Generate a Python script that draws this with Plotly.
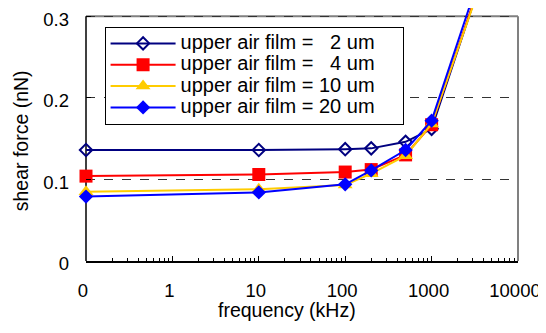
import plotly.graph_objects as go

freq_khz = [0.1, 10, 100, 200, 500, 1000, 10000]
tick_vals = [0.1, 1, 10, 100, 1000, 10000]
tick_text = ["0", "1", "10", "100", "1000", "10000"]
y_ticks = [0, 0.1, 0.2, 0.3]
y_text = ["0", "0.1", "0.2", "0.3"]

film_2um = [0.136, 0.136, 0.137, 0.138, 0.146, 0.162, 0.48]
film_4um = [0.104, 0.106, 0.109, 0.112, 0.130, 0.167, 0.475]
film_10um = [0.085, 0.088, 0.093, 0.107, 0.129, 0.168, 0.47]
film_20um = [0.079, 0.084, 0.094, 0.111, 0.136, 0.172, 0.49]

names = ["upper air film =\u00a0\u00a0\u00a02 um", "upper air film =\u00a0\u00a0\u00a04 um",
         "upper air film = 10 um", "upper air film = 20 um"]
series = [film_2um, film_4um, film_10um, film_20um]
colors = ["#000080", "#FF0000", "#FFCC00", "#0000FF"]
symbols = ["diamond-open", "square", "triangle-up", "diamond"]
sizes = [9.5, 13, 13, 11]

FONT = "Liberation Sans, Arial, sans-serif"

fig = go.Figure()
for nm, ys, c, s, sz in zip(names, series, colors, symbols, sizes):
    fig.add_trace(go.Scatter(
        x=freq_khz, y=ys, mode="lines+markers",
        name='<span style="font-size:20px">' + nm + '\u00a0\u00a0\u00a0\u00a0</span>',
        line=dict(color=c, width=2),
        marker=dict(symbol=s, size=sz, color=c, line=dict(color=c, width=2 if s == "diamond-open" else 0)),
        cliponaxis=False,
    ))

fig.update_layout(
    width=538, height=325,
    margin=dict(l=77.7, r=27.7, t=0, b=72.1, autoexpand=False),
    paper_bgcolor="white", plot_bgcolor="white",
    font=dict(family=FONT, size=18.5, color="black"),
    showlegend=True,
    legend=dict(
        x=0.043, y=0.926, xanchor="left", yanchor="top",
        bordercolor="black", borderwidth=1, bgcolor="white",
        font=dict(family=FONT, size=14.1, color="black"),
        itemwidth=65,
        tracegroupgap=0,
    ),
    xaxis=dict(
        type="log", range=[-1, 4],
        tickmode="array", tickvals=tick_vals, ticktext=tick_text,
        ticks="inside", ticklen=5, tickcolor="black", tickwidth=1,
        minor=dict(ticks="inside", ticklen=3, tickcolor="black", dtick="D1", showgrid=False),
        showline=True, linecolor="black", linewidth=1.5,
        showgrid=False, zeroline=False,
        ticklabelshift=-3, ticklabelstandoff=12, ticklabeloverflow="allow",
    ),
    yaxis=dict(
        range=[0, 0.31],
        tickmode="array", tickvals=y_ticks, ticktext=y_text,
        ticks="inside", ticklen=5, tickcolor="black",
        showline=False, zeroline=False,
        showgrid=True, gridcolor="#333333", griddash="dash", gridwidth=1,
        ticklabelstandoff=16, ticklabelshift=3, ticklabeloverflow="allow",
    ),
    shapes=[
        dict(type="line", xref="paper", yref="y", x0=0, x1=1, y0=0.3, y1=0.3,
             line=dict(color="#808080", width=2), layer="between"),
        dict(type="line", xref="paper", yref="y", x0=1, x1=1, y0=0, y1=0.3,
             line=dict(color="#808080", width=2), layer="between"),
        dict(type="line", xref="paper", yref="y", x0=0, x1=0, y0=0, y1=0.3,
             line=dict(color="black", width=1.5), layer="between"),
    ],
    annotations=[
        dict(text="frequency (kHz)", xref="paper", yref="paper", x=0.4653, y=-0.194,
             xanchor="center", yanchor="middle", showarrow=False,
             font=dict(family=FONT, size=19.5, color="black")),
        dict(text="shear force (nN)", xref="paper", yref="paper", x=-0.15, y=0.474,
             xanchor="center", yanchor="middle", showarrow=False, textangle=-90,
             font=dict(family=FONT, size=19.5, color="black")),
    ],
)

fig.write_html("out.html")
